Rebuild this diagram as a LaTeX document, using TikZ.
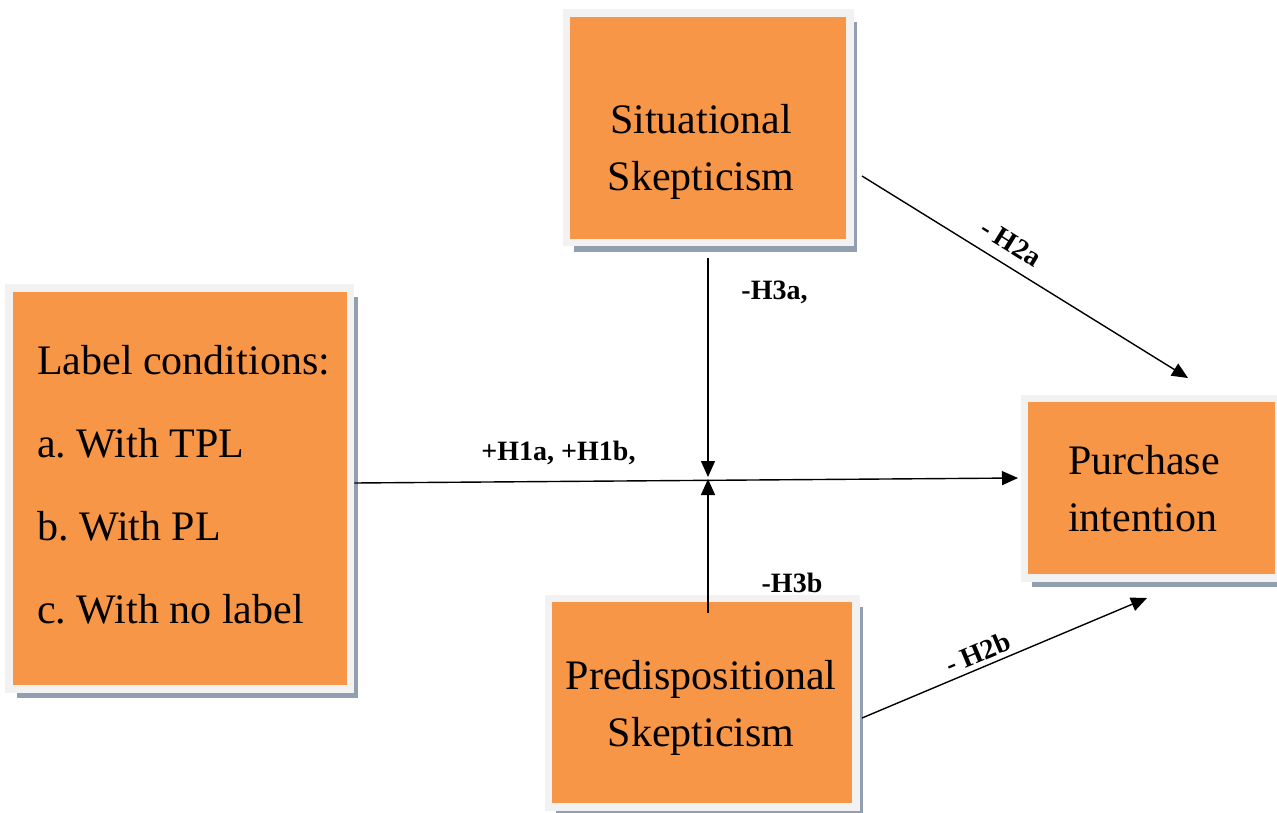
\documentclass[tikz,border=0pt]{standalone}
\usepackage{fontspec}
\setmainfont{Liberation Serif}
\usetikzlibrary{arrows.meta,shadows}
\definecolor{boxorange}{HTML}{F79646}
\definecolor{framegray}{HTML}{F2F2F2}
\definecolor{shadowgray}{HTML}{929FB0}
\frenchspacing
\begin{document}
\begin{tikzpicture}[x=1pt,y=-1pt,
  box/.style={rectangle, fill=boxorange, draw=framegray, line width=7.5pt, inner sep=0pt,
    drop shadow={shadow xshift=7.5pt, shadow yshift=-9pt, fill=shadowgray, opacity=1}},
  boxtext/.style={inner sep=0pt, font=\fontsize{42}{57}\selectfont},
  lbl/.style={inner sep=0pt, font=\fontsize{28}{30}\selectfont\bfseries},
  arr/.style={line width=1.4pt, -{Triangle[length=16pt,width=14pt]}}]
\useasboundingbox (0,0) rectangle (1277,813);
% boxes
\node[box, minimum width=283.5pt, minimum height=229.5pt] (sit) at (708,128) {};
\node[box, minimum width=341.5pt, minimum height=400.75pt] (lab) at (179.75,488.4) {};
\node[box, minimum width=254.5pt, minimum height=179.5pt] (pur) at (1151.5,488) {};
\node[box, minimum width=307.5pt, minimum height=208.5pt] (pred) at (702,702.5) {};
% box texts
\node[boxtext, align=center] (sitT) at (701,151.5) {Situational\\Skepticism};
\node[boxtext, align=left, anchor=west, font=\fontsize{42}{83}\selectfont] (labT) at (37,485) {Label conditions:\\a. With TPL\\b. With PL\\c. With no label};
\node[boxtext, align=left, anchor=west] (purT) at (1068,489) {Purchase\\intention};
\node[boxtext, align=center] (predT) at (701,707.5) {Predispositional\\Skepticism};
% meeting point
\coordinate (m) at (708,477);
% connectors
\draw[arr] ([shift={(0,-5.4)}]lab.east) -- ([shift={(-2.5,-10)}]pur.west);
\draw[arr] ([shift={(0,11.5)}]sit.south) -- (m);
\draw[arr] ([shift={(6,18.5)}]pred.north) -- ([shift={(0,2)}]m);
\draw[arr] ([shift={(8.5,48)}]sit.east) -- ([shift={(36.5,-16.5)}]pur.north);
\draw[arr] ([shift={(2.5,15.5)}]pred.east) -- ([shift={(-4.5,16.5)}]pur.south);
% labels
\node[lbl, anchor=base] (h1) at (558.5,460) {+H1a, +H1b,};
\node[lbl, anchor=base] (h3a) at (774.5,299) {-H3a,};
\node[lbl, anchor=base] (h3b) at (792,592) {-H3b};
\node[lbl, rotate=-31.8] (h2a) at (1011,243) {-~H2a};
\node[lbl, rotate=22.8] (h2b) at (978,653) {-~H2b};
\end{tikzpicture}
\end{document}
